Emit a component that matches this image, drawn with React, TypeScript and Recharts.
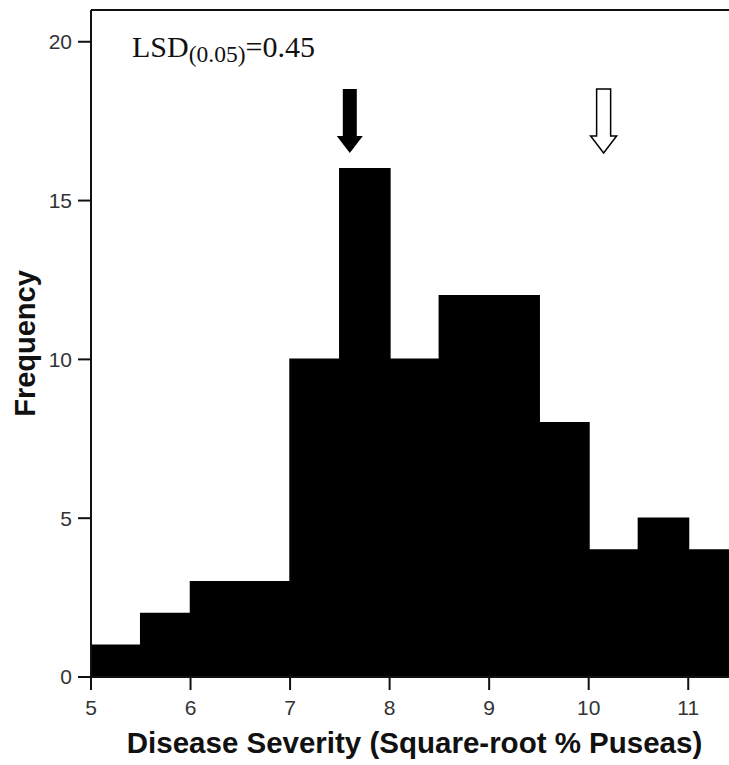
import { ComposedChart, Bar, XAxis, YAxis, ReferenceLine, ReferenceDot } from "recharts";

// histogram bins (lower edge) and counts
const binStarts = [5, 5.5, 6, 6.5, 7, 7.5, 8, 8.5, 9, 9.5, 10, 10.5, 11];
const counts = [1, 2, 3, 3, 10, 16, 10, 12, 12, 8, 4, 5, 4];
const binWidth = 0.5;

const xTicks = [5, 6, 7, 8, 9, 10, 11];
const yTicks = [0, 5, 10, 15, 20];

// arrows marking parents (x position, tip height)
const arrowX = [7.6, 10.15];
const arrowTipY = [16.5, 16.5];
const arrowFilled = [true, false];

const data = binStarts.map((s, i) => ({ mid: s + binWidth / 2, count: counts[i] }));

const SANS = "'Liberation Sans', Arial, sans-serif";
const SERIF = "'Liberation Serif', 'Times New Roman', serif";
const AXIS = "#111";

function Arrow(props: any) {
  const { cx, cy, filled } = props;
  const pts = [
    [cx, cy],
    [cx - 13, cy - 17],
    [cx - 7, cy - 17],
    [cx - 7, cy - 64],
    [cx + 7, cy - 64],
    [cx + 7, cy - 17],
    [cx + 13, cy - 17],
  ]
    .map((p) => p.join(","))
    .join(" ");
  return (
    <polygon
      points={pts}
      fill={filled ? "#000" : "#fff"}
      stroke="#000"
      strokeWidth={filled ? 0 : 1.5}
      strokeLinejoin="miter"
    />
  );
}

export default function App() {
  return (
    <div
      style={{
        position: "absolute",
        left: 0,
        top: 0,
        width: 729,
        height: 765,
        overflow: "hidden",
        background: "#fff",
      }}
    >
      <ComposedChart
        width={760}
        height={765}
        data={data}
        margin={{ top: 10, right: 22, left: 0, bottom: 0 }}
        barCategoryGap={0}
        barGap={0}
      >
        <XAxis
          dataKey="mid"
          type="number"
          domain={[5, 11.5]}
          ticks={xTicks}
          allowDataOverflow
          height={88}
          tickSize={13}
          tickMargin={10}
          stroke={AXIS}
          strokeWidth={2}
          tick={{ fill: "#333", fontSize: 21, fontFamily: SANS }}
          label={{
            content: (p: any) => {
              const vb = p.viewBox;
              return (
                <text
                  x={vb.x + vb.width / 2}
                  y={vb.y + 76}
                  textAnchor="middle"
                  fontFamily={SANS}
                  fontWeight="bold"
                  fontSize={29.5}
                  fill="#111"
                >
                  Disease Severity (Square-root % Puseas)
                </text>
              );
            },
          }}
        />
        <YAxis
          domain={[0, 21]}
          ticks={yTicks}
          width={91}
          tickSize={13}
          tickMargin={6}
          stroke={AXIS}
          strokeWidth={2}
          tick={{ fill: "#333", fontSize: 21, fontFamily: SANS }}
          label={{
            content: (p: any) => {
              const vb = p.viewBox;
              const cy = vb.y + vb.height / 2;
              return (
                <text
                  x={35}
                  y={cy}
                  transform={`rotate(-90, 35, ${cy})`}
                  textAnchor="middle"
                  fontFamily={SANS}
                  fontWeight="bold"
                  fontSize={29}
                  fill="#111"
                >
                  Frequency
                </text>
              );
            },
          }}
        />
        <Bar
          dataKey="count"
          fill="#000"
          stroke="#000"
          strokeWidth={1.6}
          isAnimationActive={false}
        />
        <ReferenceLine
          y={21}
          stroke={AXIS}
          strokeWidth={2}
          label={{
            content: (p: any) => {
              const vb = p.viewBox;
              return (
                <text x={vb.x + 41} y={vb.y + 47} fontFamily={SERIF} fontSize={30} fill="#111">
                  LSD
                  <tspan fontSize={23.5} dy={5}>
                    (0.05)
                  </tspan>
                  <tspan dy={-5}>=0.45</tspan>
                </text>
              );
            },
          }}
        />
        <ReferenceLine x={11.5} stroke={AXIS} strokeWidth={2} />
        {arrowX.map((x, i) => (
          <ReferenceDot
            key={i}
            x={x}
            y={arrowTipY[i]}
            r={1}
            shape={(p: any) => <Arrow {...p} filled={arrowFilled[i]} />}
          />
        ))}
      </ComposedChart>
    </div>
  );
}
